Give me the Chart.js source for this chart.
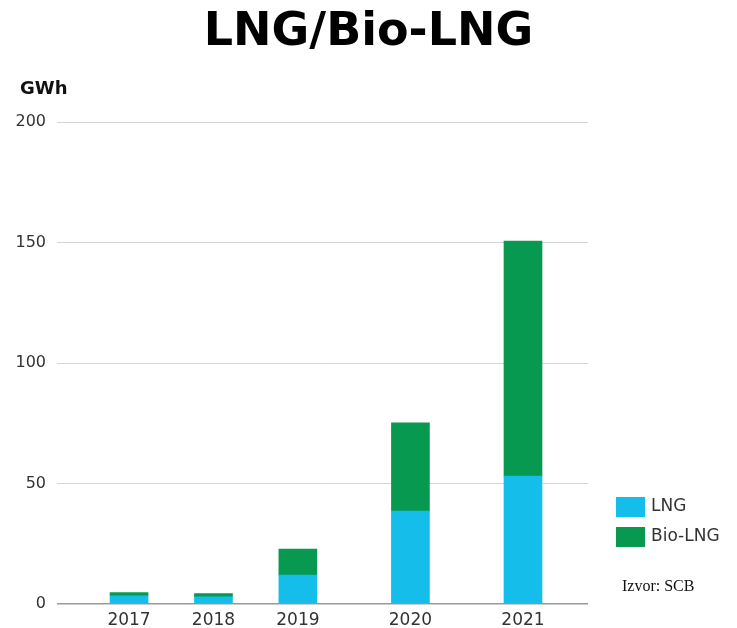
<!DOCTYPE html>
<html>
<head>
<meta charset="utf-8">
<script src="https://cdn.jsdelivr.net/npm/chart.js@4"></script>
<style>
  html, body { margin: 0; padding: 0; background: #fff; }
  #wrap { width: 737px; height: 628px; }
</style>
</head>
<body>
<div id="wrap"><canvas id="c" width="737" height="628"></canvas></div>
<script>
// ---- data ----
const years = ['2017', '2018', '2019', '2020', '2021'];
const lngValues = [3.4, 3.0, 12.0, 38.6, 53.1];
const bioLngValues = [1.3, 1.3, 10.8, 36.6, 97.5];
const yTicks = [0, 50, 100, 150, 200];
const seriesNames = ['LNG', 'Bio-LNG'];
const titleText = 'LNG/Bio-LNG';
const unitText = 'GWh';
const sourceText = 'Izvor: SCB';

// ---- layout (slot positions of the bars along the x axis) ----
const xSlots = [2, 5, 8, 12, 16];
const colors = ['#14BDEA', '#07994F'];

const toPoints = vals => vals.map((v, i) => ({ x: xSlots[i], y: v }));

const overlayPlugin = {
  id: 'overlay',
  afterDraw(chart) {
    const ctx = chart.ctx;
    const area = chart.chartArea;
    ctx.save();
    // unit label
    ctx.fillStyle = '#111';
    ctx.font = 'bold 18px "DejaVu Sans"';
    ctx.textAlign = 'left';
    ctx.textBaseline = 'middle';
    ctx.fillText(unitText, 20, 89);
    // legend
    const lx = area.right + 28;
    chart.data.datasets.forEach((ds, i) => {
      const top = 497 + i * 30;
      ctx.fillStyle = ds.backgroundColor;
      ctx.fillRect(lx, top, 29, 20);
      ctx.fillStyle = '#333';
      ctx.font = '17px "DejaVu Sans"';
      ctx.fillText(ds.label, lx + 35, top + 10);
    });
    // source
    ctx.fillStyle = '#111';
    ctx.font = '16px "Liberation Serif"';
    ctx.fillText(sourceText, lx + 6, 587);
    ctx.restore();
  }
};

new Chart(document.getElementById('c'), {
  type: 'bar',
  data: {
    datasets: [
      { label: seriesNames[0], data: toPoints(lngValues), backgroundColor: colors[0], borderWidth: 0, barThickness: 38 },
      { label: seriesNames[1], data: toPoints(bioLngValues), backgroundColor: colors[1], borderWidth: 0, barThickness: 38 }
    ]
  },
  options: {
    responsive: false,
    animation: false,
    layout: { padding: { left: 0, right: 0, top: 0, bottom: 0 } },
    plugins: {
      legend: { display: false },
      tooltip: { enabled: false },
      title: {
        display: true,
        text: titleText,
        color: '#000',
        font: { family: 'DejaVu Sans', size: 46, weight: 'bold' },
        padding: { top: 5, bottom: 62 }
      }
    },
    scales: {
      x: {
        type: 'linear',
        stacked: true,
        min: -0.56,
        max: 18.31,
        offset: false,
        grid: { display: false, drawTicks: false },
        border: { display: false },
        afterBuildTicks: scale => { scale.ticks = xSlots.map(v => ({ value: v })); },
        afterFit: scale => { scale.height = 24; },
        ticks: {
          autoSkip: false,
          maxRotation: 0,
          padding: 6,
          color: '#333',
          font: { family: 'DejaVu Sans', size: 17 },
          callback: value => years[xSlots.indexOf(value)]
        }
      },
      y: {
        stacked: true,
        min: 0,
        max: 200,
        afterBuildTicks: scale => { scale.ticks = yTicks.map(v => ({ value: v })); },
        afterFit: scale => { scale.width = 57; },
        border: { display: false },
        grid: {
          drawTicks: false,
          color: ctx => (ctx.tick && ctx.tick.value === 0) ? '#9a9a9a' : '#d4d4d4',
          lineWidth: ctx => (ctx.tick && ctx.tick.value === 0) ? 1.5 : 1
        },
        ticks: {
          padding: 11,
          color: '#333',
          font: { family: 'DejaVu Sans', size: 16 }
        }
      },
      side: {
        type: 'linear',
        position: 'right',
        display: true,
        min: 0,
        max: 1,
        grid: { display: false, drawTicks: false },
        border: { display: false },
        ticks: { display: false },
        afterFit: scale => { scale.width = 149; }
      }
    }
  },
  plugins: [overlayPlugin]
});
</script>
</body>
</html>
